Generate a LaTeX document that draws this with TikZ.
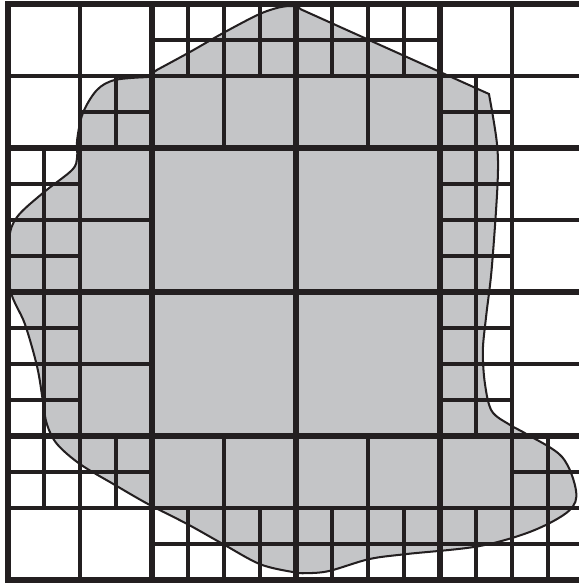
\documentclass[tikz,border=0pt]{standalone}
\definecolor{qtgray}{RGB}{196,197,199}
\definecolor{qtblack}{RGB}{35,31,32}
\usepackage{tikz}

\begin{document}
\begin{tikzpicture}[x=0.5cm, y=0.5cm,
    coarse/.style={line width=2.2pt, qtblack},
    fine/.style={line width=1.6pt, qtblack},
    region/.style={fill=qtgray, draw=qtblack, line width=0.8pt}]
  \useasboundingbox (-0.222,-0.111) rectangle (15.861,16.111);

  % Region to be meshed
  \draw[region] (13.36,13.5)
    -- plot[smooth, tension=0.55] coordinates {(13.36,13.5) (13.58,12.14) (13.6,11.03) (13.44,8.69)
       (13.28,7.31) (13.19,6.36) (13.25,5.44) (13.44,4.69) (13.94,4.31) (14.39,4.06) (15.39,3.42)
       (15.78,2.47) (15.58,1.92) (14.56,1.36) (13.08,0.94) (11.06,0.72) (10.03,0.58) (8.92,0.25)
       (8.28,0.19) (7.92,0.22) (7.0,0.44) (5.97,1.0) (4.97,1.56) (3.89,2.11) (2.92,2.67) (2.0,3.22)
       (1.36,3.78) (1.08,4.33) (0.97,4.97) (0.81,5.92) (0.47,7.11) (0.06,8.08) (0.03,9.44)
       (0.25,10.08) (0.97,10.75) (1.78,11.39) (1.92,11.75) (1.92,12.22) (2.08,12.97) (2.47,13.61)
       (2.97,13.89) (3.86,13.97)}
    -- plot[smooth, tension=0.6] coordinates {(4.14,14.17) (5.06,14.67) (5.97,15.19) (6.9,15.68)
       (7.4,15.87) (7.75,15.94) (8.0,15.93) (8.14,15.85)}
    -- cycle;

  % Finest cells: split 72-cells
  \foreach \cx/\cy in {3/13, 5/15, 7/15, 9/15, 11/15, 13/13,
                       1/11, 1/9, 13/11, 13/9, 1/7, 1/5, 13/7, 13/5,
                       1/3, 3/3, 5/1, 7/1, 9/1, 11/1, 13/1, 15/3, 15/1}
    \draw[fine] (\cx-1,\cy) -- (\cx+1,\cy) (\cx,\cy-1) -- (\cx,\cy+1);

  % Medium cells: split 144-blocks
  \foreach \cx/\cy in {2/14, 6/14, 10/14, 14/14, 2/10, 14/10,
                       2/6, 14/6, 2/2, 6/2, 10/2, 14/2}
    \draw[fine] (\cx-2,\cy) -- (\cx+2,\cy) (\cx,\cy-2) -- (\cx,\cy+2);

  % Coarse cells
  \draw[coarse] (0,0) rectangle (16,16);
  \foreach \k in {4,8,12}
    \draw[coarse] (\k,0) -- (\k,16) (0,\k) -- (16,\k);
\end{tikzpicture}
\end{document}
